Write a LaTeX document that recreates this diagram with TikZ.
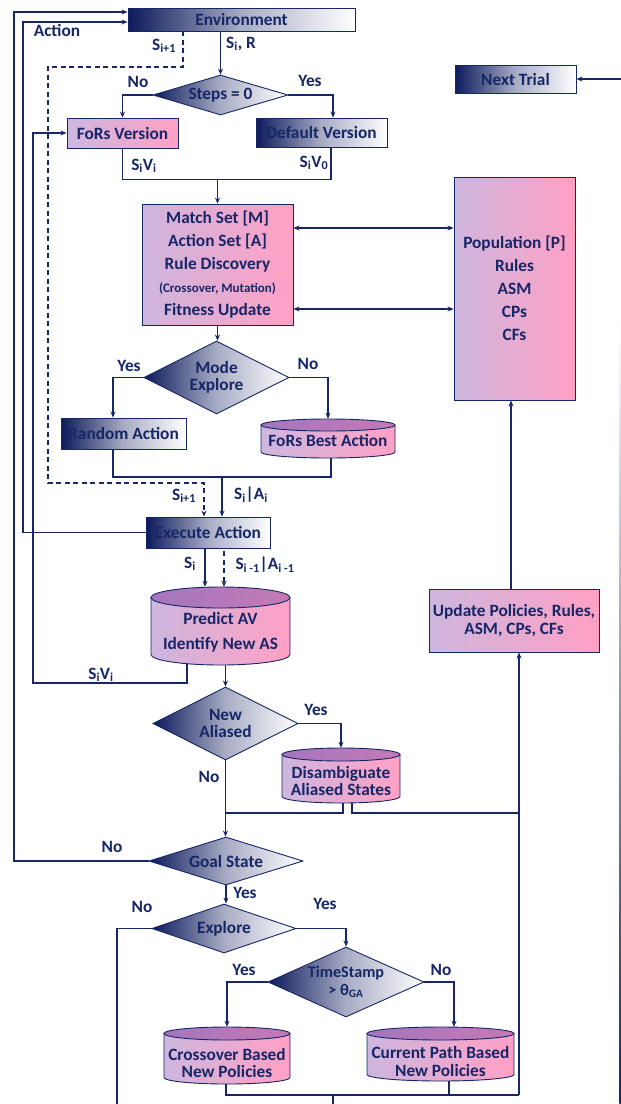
\documentclass[tikz,border=0pt]{standalone}
\usepackage{fontspec}
\setmainfont{Carlito}
\usetikzlibrary{shapes.geometric,arrows.meta}
\definecolor{navy}{RGB}{22,38,102}
\definecolor{gdark}{RGB}{12,26,92}
\definecolor{gmid}{RGB}{168,172,196}
\definecolor{myLav}{RGB}{206,182,222}
\definecolor{myPink}{RGB}{255,160,196}
\definecolor{purA}{RGB}{164,118,190}
\definecolor{purB}{RGB}{196,122,182}
\newcommand\fs{\fontsize{17.3}{17.5}\selectfont\bfseries}
\newcommand\fsw{\fontsize{17.3}{23}\selectfont\bfseries}
\newcommand\fsp{\fontsize{17.3}{25}\selectfont\bfseries}
\newcommand\sbs[1]{\textsubscript{#1}}
% cylinder: name, cx, cy, w, h, ry, text y, font, text
\newcommand\cyl[9]{%
  \path[cylbody] ({#2-#4/2},{#3-#5/2+#6}) -- ({#2-#4/2},{#3+#5/2-#6})
     arc[start angle=180,end angle=0,x radius={#4/2},y radius=#6]
     -- ({#2+#4/2},{#3-#5/2+#6}) -- cycle;
  \path[cyltop] (#2,{#3-#5/2+#6}) ellipse[x radius={#4/2}, y radius=#6];
  \node[inner sep=0pt, minimum width=#4, minimum height=#5] (#1) at (#2,#3) {};
  \node[base, align=center, font=#8] (#1-t) at (#2,#7) {#9};
}
\begin{document}
\begin{tikzpicture}[x=1pt,y=-1pt,
  base/.style={font=\fs, text=navy, inner sep=0pt},
  gbox/.style={base, draw=navy, line width=0.9pt, left color=gdark, right color=white, middle color=gmid},
  pbox/.style={base, draw=navy, line width=0.9pt, left color=myLav, right color=myPink},
  dia/.style={base, diamond, draw=navy, line width=0.9pt, left color=gdark, right color=white, middle color=gmid, align=center},
  cylbody/.style={draw=navy, line width=0.9pt, left color=myLav, right color=myPink},
  cyltop/.style={draw=navy, line width=0.9pt, left color=purA, right color=purB},
  lbl/.style={base},
  conn/.style={navy, line width=1.2pt},
  arr/.style={conn, -{Stealth[length=6pt,width=5pt]}},
  darr/.style={conn, {Stealth[length=6pt,width=5pt]}-{Stealth[length=6pt,width=5pt]}},
  dsh/.style={conn, dash pattern=on 5pt off 3.5pt},
  darrow/.style={dsh, -{Stealth[length=6pt,width=5pt]}}
]
\fill[white] (0,0) rectangle (621,1104);
\useasboundingbox (0,0) rectangle (621,1104);

% nodes
\node[gbox, minimum width=227, minimum height=23] (env) at (241.5,19.5) {Environment};
\node[gbox, minimum width=121, minimum height=28] (nt) at (515.5,79) {Next Trial};
\node[dia, minimum width=135, minimum height=40, aspect=3.4] (steps) at (220.5,95) {Steps = 0};
\node[pbox, minimum width=111, minimum height=30] (fors) at (122.5,133) {FoRs Version};
\node[gbox, minimum width=131, minimum height=29] (def) at (321.5,132.5) {Default Version};
\node[pbox, minimum width=151, minimum height=121, font=\fsw, align=center] (match) at (217.5,264.5)
  {Match Set [M]\\Action Set [A]\\Rule Discovery\\{\fontsize{13}{23}\selectfont (Crossover, Mutation)}\\Fitness Update};
\node[pbox, minimum width=121, minimum height=223, font=\fsw, align=center] (pop) at (514.5,288.5)
  {Population [P]\\Rules\\ASM\\CPs\\CFs};
\node[dia, minimum width=145, minimum height=73, aspect=2] (mode) at (216.5,377.5) {Mode\\Explore};
\node[gbox, minimum width=125, minimum height=31] (rand) at (123.5,433.5) {Random Action};
\cyl{best}{328}{438.5}{134}{39}{6}{440}{\fs}{FoRs Best Action}
\node[gbox, minimum width=124, minimum height=31] (exec) at (208,532.5) {Execute Action};
\cyl{pred}{220.5}{626}{139}{78}{10.5}{632.5}{\fsp}{Predict AV\\Identify New AS}
\node[pbox, minimum width=170, minimum height=63, align=center] (upd) at (514,620.5) {Update Policies, Rules,\\ASM, CPs, CFs};
\node[dia, minimum width=145, minimum height=73, aspect=2] (na) at (225.5,723.5) {New\\Aliased};
\cyl{dis}{341}{775.5}{118}{55}{6.5}{781}{\fs}{Disambiguate\\Aliased States}
\node[dia, minimum width=154, minimum height=48, aspect=3.2] (goal) at (226,861) {Goal State};
\node[dia, minimum width=144, minimum height=49, aspect=2.9] (expl) at (224,928.5) {Explore};
\node[dia, minimum width=156, minimum height=70, aspect=2.2, font=\fontsize{16.2}{18}\selectfont\bfseries] (ts) at (346,982) {TimeStamp\\> θ\sbs{GA}};
\cyl{cross}{227}{1055.5}{126}{57}{6.5}{1063}{\fs}{Crossover Based\\New Policies}
\cyl{cur}{440.5}{1054}{147}{54}{6.5}{1061.5}{\fs}{Current Path Based\\New Policies}

% right edge line
\shade[top color=white, bottom color=navy] (619.3,320) rectangle (620.8,1104);
\coordinate (ntin) at (621,79);
\draw[arr] (ntin) -- (nt.east);

% connectors
\draw[arr] (goal.west) -- (14,861) |- ([yshift=7.5]env.west);
\draw[arr] (exec.west) -- (23,532.5) |- ([yshift=-2.5]env.west);
\draw[arr] ([xshift=-33.5,yshift=1.5]pred.south) |- (33,683) |- (fors.west);
\draw[darrow] ([xshift=-58.5]env.south) |- (48,67) |- (204,483) -- ([xshift=-4]exec.north);
\draw[arr] (steps.north |- env.south) -- (steps.north);
\draw[arr] (steps.west) -| (fors.north);
\draw[arr] (steps.east) -| ([xshift=11.5]def.north);
\draw[conn] (fors.south) -- (122.5,179.5) -| ([xshift=9.5]def.south);
\coordinate (j1) at (217.5,179.5);
\draw[arr] (j1) -- (match.north);
\draw[darr] ([yshift=36.5]match.east) -- ([yshift=36.5]match.east -| pop.west);
\draw[darr] ([yshift=-44.5]match.east) -- ([yshift=-44.5]match.east -| pop.west);
\draw[arr] (match.south) -- (match.south |- mode.north);
\draw[arr] (mode.west) -| ([xshift=-10.5]rand.north);
\draw[arr] (mode.east) -| (best.north);
\draw[conn] ([xshift=-10.5]rand.south) -- (113,477) -| ([xshift=3]best.south);
\coordinate (j2) at (222,477);
\draw[arr] (j2) -- (j2 |- exec.north);
\draw[arr] ([xshift=-3]exec.south) -- ([xshift=-3]exec.south |- pred.north);
\draw[darrow] ([xshift=16,yshift=-3]exec.south) -- ([xshift=16]exec.south |- pred.north);
\draw[arr] (pred.south -| na.north) -- (na.north);
\draw[arr] (na.east) -| (dis.north);
\draw[arr] (na.south) -- (na.south |- goal.north);
\draw[conn] ([xshift=2]dis.south) -- (343,813) -- (225.5,813);
\draw[conn] ([xshift=11]dis.south) -- (352,813) -- (519,813);
\draw[arr] (goal.south) -- (goal.south |- expl.north);
\coordinate (bot2) at (117,1104);
\draw[conn] (expl.west) -| (bot2);
\draw[arr] (expl.east) -| (ts.north);
\draw[arr] (ts.west) -| (cross.north);
\draw[arr] (ts.east) -| ([xshift=13.5]cur.north);
\draw[conn] ([xshift=-1]cross.south) -- (226,1095) -- (519,1095);
\draw[conn] ([xshift=8.5]cur.south) -- (449,1095);
\coordinate (bot1) at (333,1104);
\draw[conn] (333,1095) -- (bot1);
\draw[arr] (519,1095) -- ([xshift=5]upd.south);
\draw[arr] ([xshift=-3]upd.north) -- ([xshift=-3]upd.north |- pop.south);

% labels
\node[lbl] (lAction) at (57,30) {Action};
\node[lbl] (lS1) at (164,46) {S\sbs{i+1}};
\node[lbl] (lSR) at (241,44) {S\sbs{i}, R};
\node[lbl] (lNo1) at (138,82) {No};
\node[lbl] (lYes1) at (310,81) {Yes};
\node[lbl] (lSV1) at (144,166) {S\sbs{i}V\sbs{i}};
\node[lbl] (lSV0) at (314,163) {S\sbs{i}V\sbs{0}};
\node[lbl] (lYes2) at (129,366) {Yes};
\node[lbl] (lNo2) at (308,364) {No};
\node[lbl] (lS2) at (184,496) {S\sbs{i+1}};
\node[lbl] (lSA) at (251,495) {S\sbs{i}|A\sbs{i}};
\node[lbl] (lSi) at (190,564) {S\sbs{i}};
\node[lbl] (lSA1) at (265,565) {S\sbs{i -1}|A\sbs{i -1}};
\node[lbl] (lSV2) at (101,675) {S\sbs{i}V\sbs{i}};
\node[lbl] (lYes3) at (316,710) {Yes};
\node[lbl] (lNo3) at (209,777) {No};
\node[lbl] (lNo4) at (112,847) {No};
\node[lbl] (lYes4) at (245,893) {Yes};
\node[lbl] (lNo5) at (142,907) {No};
\node[lbl] (lYes5) at (325,904) {Yes};
\node[lbl] (lYes6) at (244,970) {Yes};
\node[lbl] (lNo6) at (441,970) {No};
\end{tikzpicture}
\end{document}
